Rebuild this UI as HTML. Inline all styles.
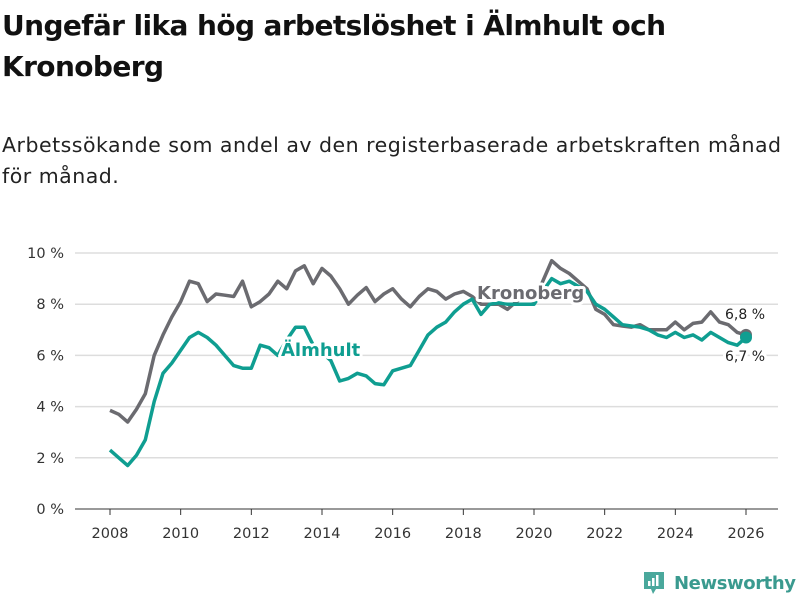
<!DOCTYPE html>
<html><head><meta charset="utf-8"><style>
body{margin:0;width:800px;height:600px;background:#fff;font-family:"DejaVu Sans","Liberation Sans",sans-serif;overflow:hidden;position:relative}
h1{position:absolute;left:2px;top:5px;margin:0;font-size:28px;line-height:41px;font-weight:bold;color:#111;letter-spacing:-0.6px}
p{position:absolute;left:2px;top:130px;margin:0;font-size:20.5px;line-height:31px;color:#222;letter-spacing:0.5px}
</style></head><body>
<h1>Ungefär lika hög arbetslöshet i Älmhult och<br>Kronoberg</h1>
<p>Arbetssökande som andel av den registerbaserade arbetskraften månad<br>för månad.</p>
<svg id="chart" width="800" height="600" style="position:absolute;left:0;top:0" font-family="DejaVu Sans, Liberation Sans, sans-serif"></svg>
<div style="position:absolute;left:642px;top:570px;display:flex;align-items:center;color:#3a9a8f;font-weight:bold;font-size:18px;letter-spacing:-0.4px">
<svg width="24" height="26" style="margin-right:8px"><path d="M2 2h20v17h-8l-3 5-2-5H2z" fill="#4aa89c"/><rect x="6" y="11" width="2.5" height="5" fill="#fff"/><rect x="10" y="8" width="2.5" height="8" fill="#fff"/><rect x="14" y="5" width="2.5" height="11" fill="#fff"/></svg>Newsworthy</div>
<script>
const years=[2008,2010,2012,2014,2016,2018,2020,2022,2024,2026];
const yTicks=[0,2,4,6,8,10];
const kronoberg=[3.85,3.7,3.4,3.9,4.5,6.0,6.8,7.5,8.1,8.9,8.8,8.1,8.4,8.35,8.3,8.9,7.9,8.1,8.4,8.9,8.6,9.3,9.5,8.8,9.4,9.1,8.6,8.0,8.35,8.65,8.1,8.4,8.6,8.2,7.9,8.3,8.6,8.5,8.2,8.4,8.5,8.3,8.0,8.0,8.0,7.8,8.1,8.3,8.1,8.9,9.7,9.4,9.2,8.9,8.6,7.8,7.6,7.2,7.15,7.1,7.2,7.0,7.0,7.0,7.3,7.0,7.25,7.3,7.7,7.3,7.2,6.9,6.8];
const almhult=[2.3,2.0,1.7,2.1,2.7,4.2,5.3,5.7,6.2,6.7,6.9,6.7,6.4,6.0,5.6,5.5,5.5,6.4,6.3,6.0,6.6,7.1,7.1,6.4,6.1,5.8,5.0,5.1,5.3,5.2,4.9,4.85,5.4,5.5,5.6,6.2,6.8,7.1,7.3,7.7,8.0,8.2,7.6,8.0,8.05,8.0,8.0,8.0,8.0,8.5,9.0,8.8,8.9,8.7,8.5,8.0,7.8,7.5,7.2,7.15,7.1,7.0,6.8,6.7,6.9,6.7,6.8,6.6,6.9,6.7,6.5,6.4,6.7];
const x=t=>110+(t-2008)*(636/18);
const y=v=>509-v*25.6;
const svg=document.getElementById('chart');
const NS='http://www.w3.org/2000/svg';
function mk(tag,attrs,parent){const e=document.createElementNS(NS,tag);for(const k in attrs)e.setAttribute(k,attrs[k]);(parent||svg).appendChild(e);return e;}
yTicks.forEach(v=>{
 const l=mk('line',{x1:75,x2:778,y1:y(v),y2:y(v),stroke:v===0?'#333':'#ddd','stroke-width':v===0?1:1.5});
 
 
 const t=mk('text',{x:64,y:y(v)+5,'text-anchor':'end','font-size':14.5,fill:'#333'});
 t.textContent=v+' %';
 
 
});
years.forEach(yr=>{
 const l=mk('line',{x1:x(yr),x2:x(yr),y1:509,y2:515,stroke:'#333'});
 
 
 const t=mk('text',{x:x(yr),y:538,'text-anchor':'middle','font-size':14.5,fill:'#333'});
 t.textContent=yr;
 
 
});
function series(data,color,name){
 const d=data.map((v,i)=>(i?'L':'M')+x(2008+i/4).toFixed(1)+','+y(v).toFixed(1)).join('');
 const p=mk('path',{d:d,fill:'none',stroke:color,'stroke-width':3.5,'stroke-linejoin':'round'});
 
 
 const c=mk('circle',{cx:x(2026),cy:y(data[data.length-1]),r:6,fill:color});
 
 
}
series(kronoberg,'#6b6b70','kronoberg');
series(almhult,'#0f9e91','almhult');
function label(txt,xx,yy,color,name,size,weight){
 const t=mk('text',{x:xx,y:yy,'font-size':size,'font-weight':weight,fill:color,stroke:'#fff','stroke-width':6,'paint-order':'stroke','stroke-linejoin':'round'});
 t.textContent=txt;
 
 
}
label('Kronoberg',477,299,'#6b6b70','kronoberg-label',18,'bold');
label('Älmhult',281,356,'#0f9e91','almhult-label',18,'bold');
label('6,8 %',725,319,'#222','kronoberg-end-value',14,'normal');
label('6,7 %',725,361,'#222','almhult-end-value',14,'normal');
</script>
</body></html>
